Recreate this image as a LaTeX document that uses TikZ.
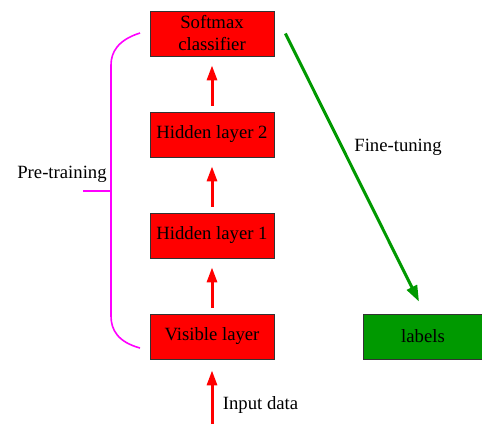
\documentclass[tikz,border=0pt]{standalone}
\usepackage{fontspec}
\setmainfont{Liberation Serif}
\usetikzlibrary{arrows.meta}
\definecolor{bracecol}{RGB}{255,0,255}

\begin{document}
\begin{tikzpicture}[x=1pt,y=-1pt]
            \useasboundingbox (0,0) rectangle (482,424);
            \begin{scope}[every node/.style={draw=black!80,line width=0.8pt,minimum width=124pt,minimum height=45pt,inner sep=0pt,align=center,font=\fontsize{18.7}{22}\selectfont}]
                \node[fill=red] (1) at (212,33.5) {Softmax\\classifier};
                \node[fill=red] (2) at (212,134.5) {Hidden layer 2};
                \node[fill=red] (3) at (212,235.5) {Hidden layer 1};
                \node[fill=red] (4) at (212,336.5) {Visible layer};
                \node[fill=green!60!black, minimum width=120pt] (5) at (423,336.5) {labels};
            \end{scope}
            \begin{scope}[every node/.style={font=\fontsize{18.7}{22}\selectfont}]
                \node (6) at (260.5,405) {Input data};
                \node (7) at (398,147) {Fine-tuning};
                \node (8) at (62,174) {Pre-training};
            \end{scope}

            \coordinate (9) at (212,424);
            \coordinate (10) at (140,33);
            \coordinate (11) at (140,348);
            \coordinate (12) at (83,191);
            \coordinate (13) at (111,191);

            \begin{scope}[every edge/.style={draw,red,line width=3pt,-{Triangle[length=15pt,width=10pt]}}]
                \path (4) edge[shorten >=9pt, shorten <=6pt] (3);
                \path (3) edge[shorten >=9pt, shorten <=6pt] (2);
                \path (2) edge[shorten >=9pt, shorten <=6pt] (1);
                \path (9) edge[shorten >=11pt] (4);
            \end{scope}
            \draw[green!60!black,line width=3pt,-{Triangle[length=16pt,width=11pt]}] ([xshift=11pt]1.east) -- ([xshift=-4pt,yshift=12pt]5.north);
            \draw[bracecol,line width=1.6pt] (10) .. controls (118,40) and (111,52) .. (111,65) -- (111,316) .. controls (111,330) and (118,342) .. (11);
            \draw[bracecol,line width=1.6pt] (12) -- (13);
        \end{tikzpicture}
\end{document}
